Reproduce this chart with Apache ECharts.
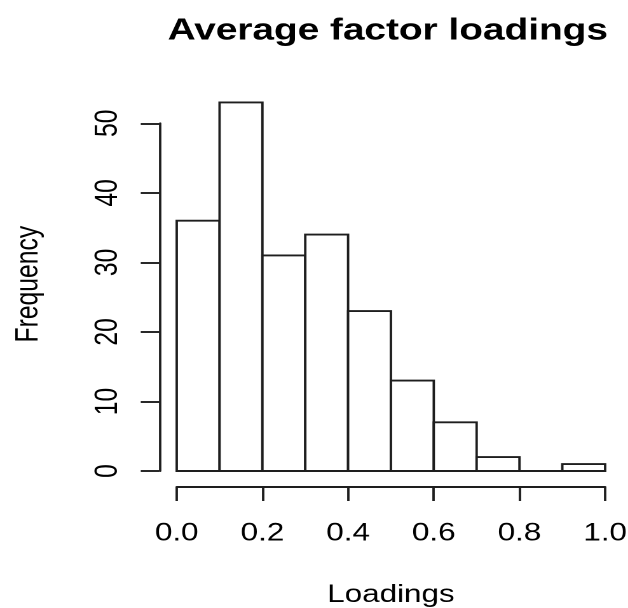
<!DOCTYPE html>
<html>
<head>
<meta charset="utf-8">
<script src="https://cdn.jsdelivr.net/npm/echarts@6/dist/echarts.min.js"></script>
<style>
  html, body { margin: 0; padding: 0; background: #fff; overflow: hidden; }
  #wrap { width: 628px; height: 608px; overflow: hidden; }
  /* the plot is laid out on a narrower canvas and widened to the page */
  #chart { width: 494px; height: 608px; transform: scaleX(1.2713); transform-origin: 0 0; }
</style>
</head>
<body>
<div id="wrap"><div id="chart"></div></div>
<script>
// histogram bins (left/right edges) and their counts
const binEdges = [0.0, 0.1, 0.2, 0.3, 0.4, 0.5, 0.6, 0.7, 0.8, 0.9, 1.0];
const counts = [36, 53, 31, 34, 23, 13, 7, 2, 0, 1];

// axis tick values
const xTicks = [0.0, 0.2, 0.4, 0.6, 0.8, 1.0];
const yTicks = [0, 10, 20, 30, 40, 50];

const titleText = 'Average factor loadings';
const xName = 'Loadings';
const yName = 'Frequency';

const FONT = '"Liberation Sans", Arial, Helvetica, sans-serif';
const INK = '#1e1e1e';
const LW = 1.9;

const binData = counts.map((c, i) => [binEdges[i], binEdges[i + 1], c]);

const chart = echarts.init(document.getElementById('chart'), null, { renderer: 'canvas', devicePixelRatio: 2 });

chart.setOption({
  backgroundColor: '#ffffff',
  animation: false,
  graphic: [{
    type: 'text',
    x: 305,
    y: 31,
    style: {
      text: titleText,
      fontFamily: FONT,
      fontSize: 30.5,
      fontWeight: 'bold',
      fill: '#000',
      align: 'center',
      verticalAlign: 'middle'
    }
  }],
  grid: { left: 139, right: 18, top: 123.3, bottom: 137, containLabel: false, outerBoundsMode: 'none' },
  xAxis: {
    type: 'value',
    min: xTicks[0],
    max: xTicks[xTicks.length - 1],
    interval: 0.2,
    offset: 15.7,
    axisLine: { show: true, onZero: false, lineStyle: { color: INK, width: LW } },
    axisTick: { show: true, inside: false, length: 14.3, lineStyle: { color: INK, width: LW } },
    axisLabel: {
      margin: 34.5,
      fontFamily: FONT,
      fontSize: 24.7,
      color: '#000',
      formatter: v => v.toFixed(1)
    },
    splitLine: { show: false },
    name: xName,
    nameLocation: 'middle',
    nameGap: 96,
    nameTextStyle: { fontFamily: FONT, fontSize: 24.7, color: '#000' }
  },
  yAxis: {
    type: 'value',
    min: yTicks[0],
    max: yTicks[yTicks.length - 1],
    interval: 10,
    offset: 13.7,
    axisLine: { show: true, onZero: false, lineStyle: { color: INK, width: LW } },
    axisTick: { show: true, inside: false, length: 14.6, lineStyle: { color: INK, width: LW } },
    axisLabel: {
      rotate: 90,
      margin: 27.8,
      fontFamily: FONT,
      fontSize: 24.7,
      color: '#000'
    },
    splitLine: { show: false },
    name: yName,
    nameLocation: 'middle',
    nameRotate: 90,
    nameGap: 90,
    // centre the title over the plot region rather than the 0–50 span
    nameTextStyle: { fontFamily: FONT, fontSize: 24.7, color: '#000', padding: [0, 0, 0, 26] }
  },
  series: [{
    type: 'custom',
    clip: false,
    data: binData,
    encode: { x: [0, 1], y: 2 },
    renderItem: function (params, api) {
      const p0 = api.coord([api.value(0), api.value(2)]);
      const p1 = api.coord([api.value(1), 0]);
      return {
        type: 'rect',
        shape: { x: p0[0], y: p0[1], width: p1[0] - p0[0], height: p1[1] - p0[1] },
        style: { fill: '#ffffff', stroke: INK, lineWidth: LW }
      };
    }
  }]
});
</script>
</body>
</html>
